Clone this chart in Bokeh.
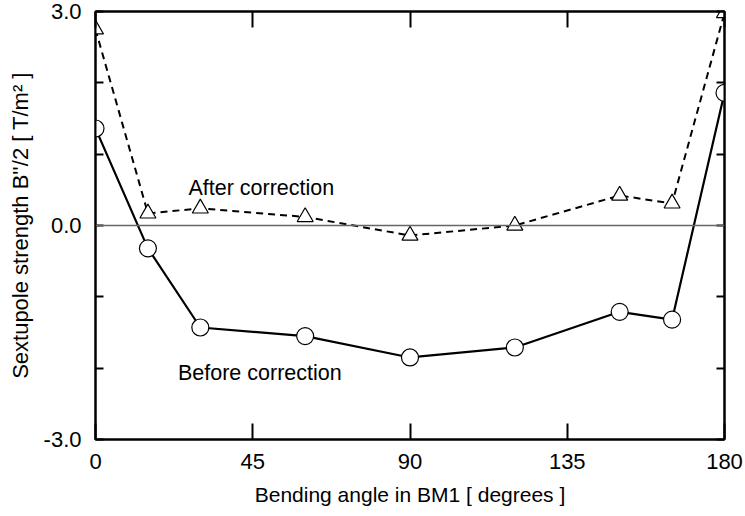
from bokeh.plotting import figure
from bokeh.models import LinearAxis, FixedTicker, Span, Range1d
from bokeh.core.properties import value
from bokeh.embed import file_html
from bokeh.resources import INLINE

angles = [0, 15, 30, 60, 90, 120, 150, 165, 180]
before = [1.36, -0.32, -1.43, -1.55, -1.85, -1.71, -1.21, -1.32, 1.86]
after = [2.75, 0.17, 0.24, 0.12, -0.14, 0.0, 0.42, 0.31, 2.98]
x_ticks = [0, 45, 90, 135, 180]
y_ticks = [-3, -2, -1, 0, 1, 2, 3]
y_labels = {-3: "-3.0", -2: "", -1: "", 0: "0.0", 1: "", 2: "", 3: "3.0"}

FONT = "Liberation Sans"
FS = "22px"
FS_LAB = "21px"
FS_TXT = "21.5px"

p = figure(frame_width=629, frame_height=428,
           min_border_left=95, min_border_right=21, min_border_top=11, min_border_bottom=77,
           x_range=Range1d(0, 180), y_range=Range1d(-3, 3),
           output_backend="svg", toolbar_location=None,
           x_axis_location="below", y_axis_location="left")
p.xgrid.visible = False
p.ygrid.visible = False
p.outline_line_color = "black"
p.outline_line_width = 2
p.background_fill_color = "white"
p.border_fill_color = "white"

xa = p.xaxis[0]
xa.ticker = FixedTicker(ticks=x_ticks)
xa.minor_tick_line_color = None
xa.major_tick_in = 16
xa.major_tick_out = 0
xa.major_tick_line_width = 2
xa.axis_line_width = 2
xa.major_label_standoff = 14
xa.major_label_text_font = FONT
xa.major_label_text_font_size = FS
xa.major_label_text_color = "black"
xa.axis_label = "Bending angle in BM1 [ degrees ]"
xa.axis_label_text_font = FONT
xa.axis_label_text_font_size = FS_LAB
xa.axis_label_text_font_style = "normal"
xa.axis_label_text_color = "black"
xa.axis_label_standoff = 11

ya = p.yaxis[0]
ya.ticker = FixedTicker(ticks=y_ticks)
ya.major_label_overrides = y_labels
ya.minor_tick_line_color = None
ya.major_tick_in = 8
ya.major_tick_out = 0
ya.major_tick_line_width = 2
ya.axis_line_width = 2
ya.major_label_standoff = 14
ya.major_label_text_font = FONT
ya.major_label_text_font_size = FS
ya.major_label_text_color = "black"
ya.axis_label = "Sextupole strength B''/2 [ T/m\u00b2 ]"
ya.axis_label_text_font = FONT
ya.axis_label_text_font_size = FS
ya.axis_label_text_font_style = "normal"
ya.axis_label_text_color = "black"
ya.axis_label_standoff = 8

top = LinearAxis(ticker=FixedTicker(ticks=x_ticks), major_tick_in=16, major_tick_out=0,
                 major_tick_line_width=2, axis_line_width=2, minor_tick_line_color=None,
                 major_label_overrides={t: "" for t in x_ticks}, major_label_standoff=0)
right = LinearAxis(ticker=FixedTicker(ticks=y_ticks), major_tick_in=8, major_tick_out=0,
                   major_tick_line_width=2, axis_line_width=2, minor_tick_line_color=None,
                   major_label_overrides={t: "" for t in y_ticks}, major_label_standoff=0)
p.add_layout(top, "above")
p.add_layout(right, "right")

zero = Span(location=0, dimension="width", line_color="#666666", line_width=1.5)
p.add_layout(zero)

p.line(angles, after, line_color="black", line_width=2, line_dash="7 5")
p.scatter(angles, after, marker="triangle", size=16, fill_color="white",
          line_color="black", line_width=1.2)

p.line(angles, before, line_color="black", line_width=2.2)
p.scatter(angles, before, marker="circle", size=17, fill_color="white",
          line_color="black", line_width=1.2)

p.text(x=[26.6], y=[0.53], text=["After correction"], text_font=value(FONT),
       text_font_size=FS_TXT, text_baseline="alphabetic", text_align="left", text_color="black")
p.text(x=[23.6], y=[-2.07], text=["Before correction"], text_font=value(FONT),
       text_font_size=FS_TXT, text_baseline="alphabetic", text_align="left", text_color="black")

open("out.html", "w").write(file_html(p, INLINE))
